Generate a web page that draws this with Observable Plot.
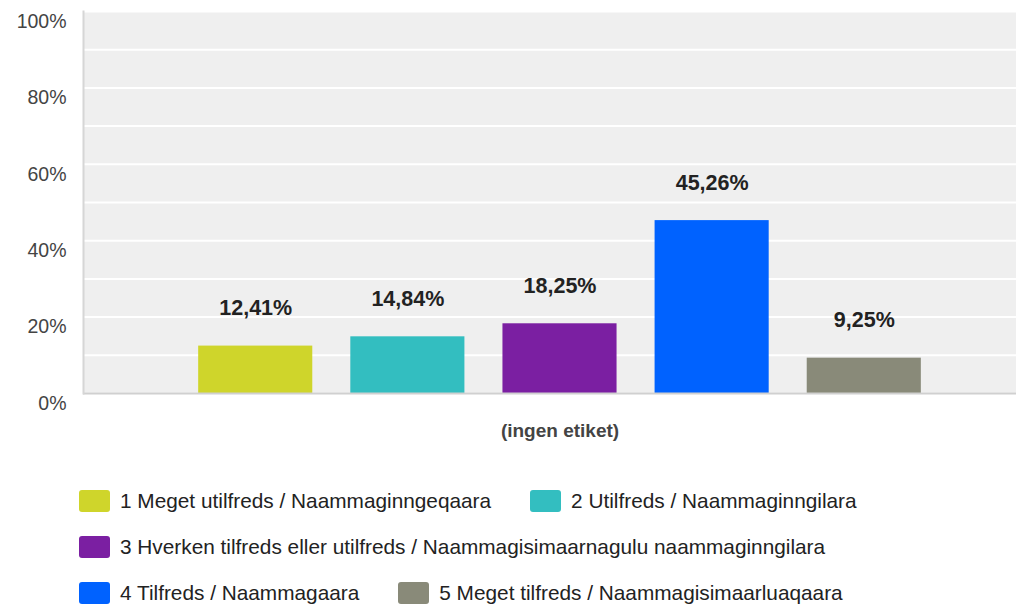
<!DOCTYPE html>
<html>
<head>
<meta charset="utf-8">
<script src="https://cdn.jsdelivr.net/npm/d3@7"></script>
<script src="https://cdn.jsdelivr.net/npm/@observablehq/plot@0.6"></script>
<style>
  html, body { margin: 0; padding: 0; overflow: hidden; background: #fff; width: 1016px; height: 604px; }
  body { font-family: "Liberation Sans", Arial, sans-serif; }
  #chart { width: 1036px; height: 450px; }
  #chart svg { max-width: none !important; display: block; }
  #legend { display: flex; flex-wrap: wrap; width: 830px; margin: 28px 0 0 79px; column-gap: 39px; }
  .item { display: flex; align-items: center; height: 46px; font-size: 20.8px; color: #222; white-space: nowrap; }
  .sw { width: 31px; height: 22px; border-radius: 3px; margin-right: 10px; flex: none; }
</style>
</head>
<body>
<div id="chart"></div>
<div id="legend"></div>
<script>
const groupLabel = "(ingen etiket)";
const series = [
  "1 Meget utilfreds / Naammaginngeqaara",
  "2 Utilfreds / Naammaginngilara",
  "3 Hverken tilfreds eller utilfreds / Naammagisimaarnagulu naammaginngilara",
  "4 Tilfreds / Naammagaara",
  "5 Meget tilfreds / Naammagisimaarluaqaara"
];
const values = [12.41, 14.84, 18.25, 45.26, 9.25];
const colors = ["#cfd52b", "#33bec0", "#7b1fa2", "#0062ff", "#898a79"];
const yTicks = [0, 20, 40, 60, 80, 100];
const gridTicks = [0, 10, 20, 30, 40, 50, 60, 70, 80, 90, 100];

const data = series.map((s, i) => ({series: s, value: values[i]}));
const fmt = v => v.toFixed(2).replace(".", ",") + "%";

const chart = Plot.plot({
  width: 1036,
  height: 450,
  marginLeft: 83,
  marginRight: 0,
  marginTop: 11,
  marginBottom: 57,
  style: {fontFamily: "'Liberation Sans', Arial, sans-serif", background: "transparent", maxWidth: "none"},
  x: {domain: series, paddingInner: 0.25, paddingOuter: 0.757, round: false, axis: null},
  y: {domain: [0, 100]},
  color: {domain: series, range: colors},
  marks: [
    Plot.frame({fill: "#efefef", stroke: null}),
    Plot.gridY(gridTicks, {stroke: "#ffffff", strokeOpacity: 1, strokeWidth: 2}),
    Plot.barY(data, {x: "series", y: "value", fill: "series"}),
    Plot.ruleY([0], {stroke: "#d0d0d0", strokeWidth: 2}),
    Plot.frame({anchor: "left", stroke: "#d6d6d6", strokeWidth: 2}),
    Plot.text(data, {x: "series", y: "value", text: d => fmt(d.value), dy: -31, lineAnchor: "bottom",
      fontWeight: "bold", fontSize: 21.5, fill: "#222"}),
    Plot.axisY(yTicks, {tickSize: 0, tickPadding: 17, dy: 10, tickFormat: d => d + "%", fontSize: 19.5, color: "#444", label: null}),
    Plot.text([groupLabel], {frameAnchor: "bottom", text: d => d, dy: 37, lineAnchor: "middle",
      fontWeight: "bold", fontSize: 19, fill: "#444"})
  ]
});
document.getElementById("chart").appendChild(chart);

const legend = document.getElementById("legend");
series.forEach((s, i) => {
  const item = document.createElement("div");
  item.className = "item";
  const sw = document.createElement("span");
  sw.className = "sw";
  sw.style.background = colors[i];
  const t = document.createElement("span");
  t.textContent = s;
  item.appendChild(sw);
  item.appendChild(t);
  legend.appendChild(item);
});
</script>
</body>
</html>
